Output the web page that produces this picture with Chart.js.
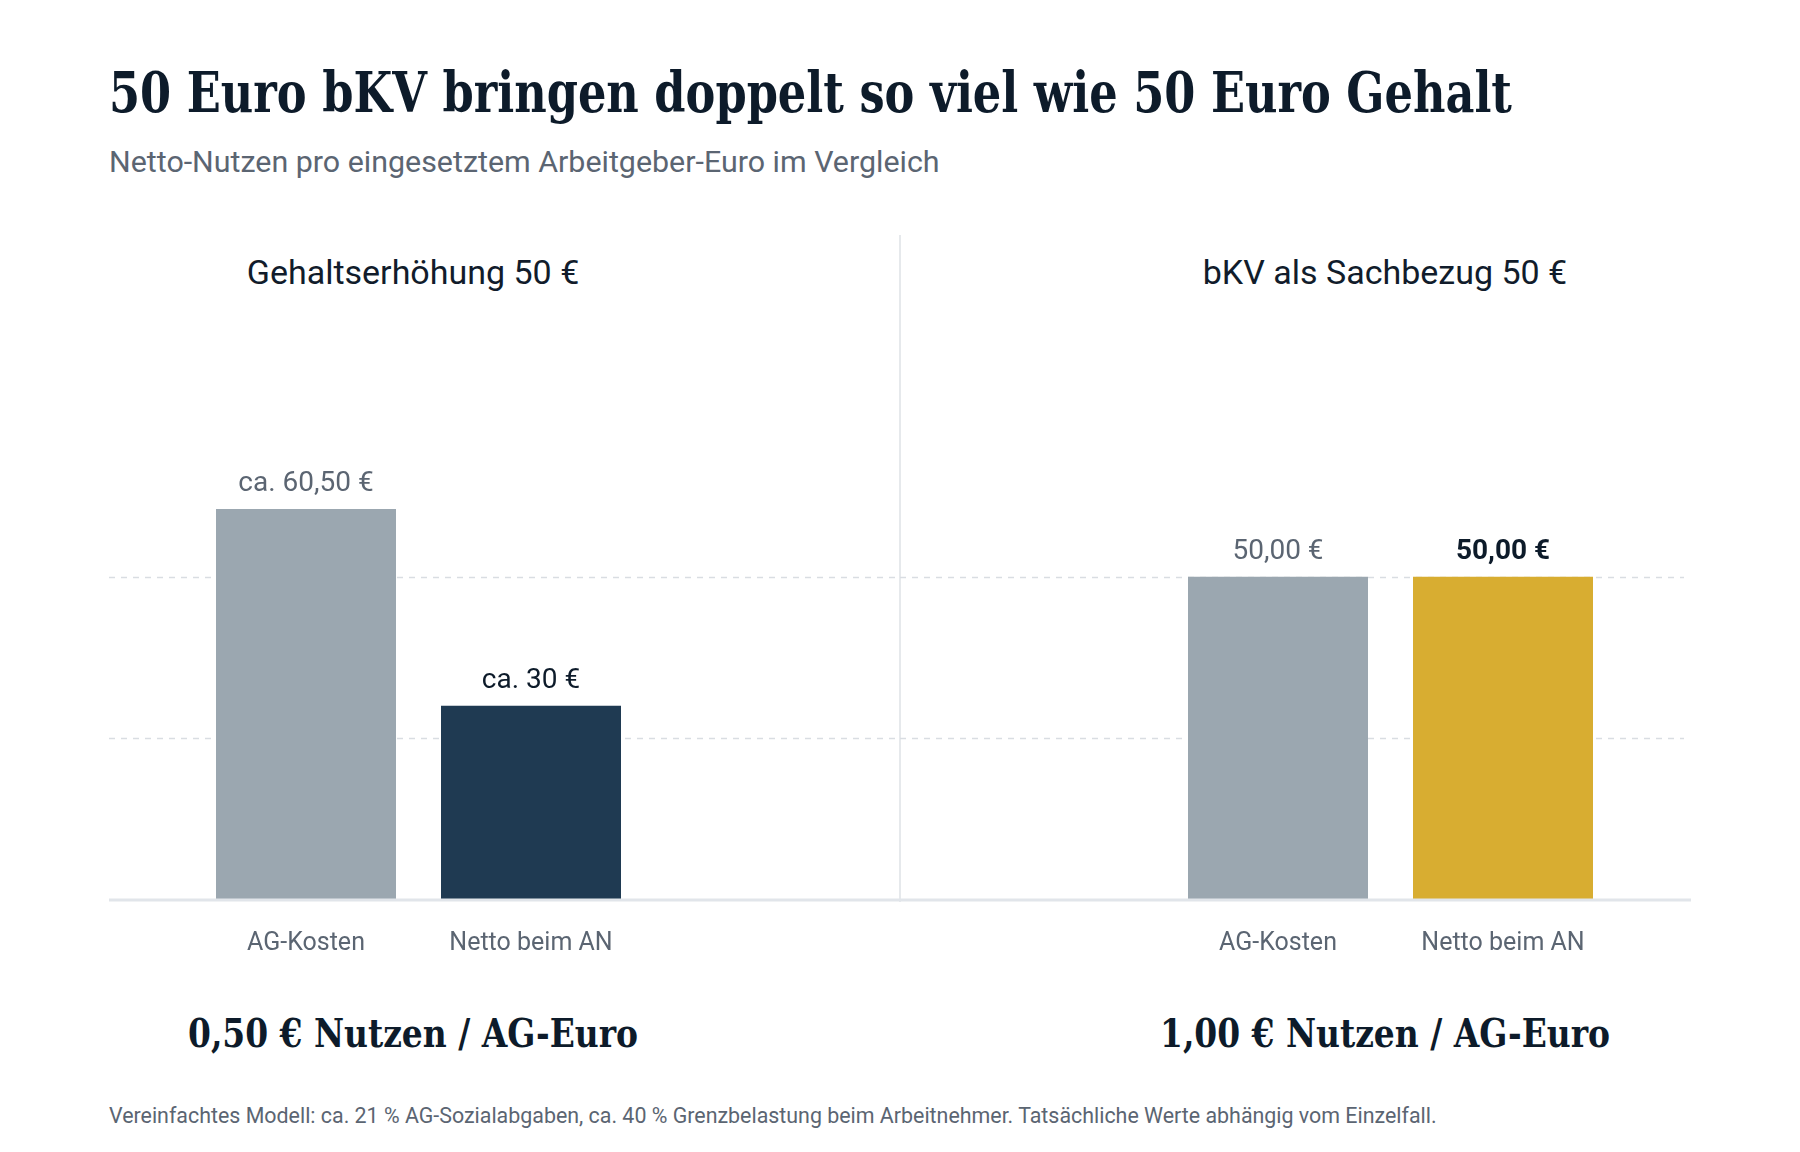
<!DOCTYPE html>
<html lang="de">
<head>
<meta charset="utf-8">
<title>50 Euro bKV bringen doppelt so viel wie 50 Euro Gehalt</title>
<script src="https://cdn.jsdelivr.net/npm/chart.js@4.4.1/dist/chart.umd.min.js"></script>
<style>
  html, body { margin: 0; padding: 0; background: #ffffff; }
  #page { position: relative; width: 1800px; height: 1152px; overflow: hidden; }
  .abs { position: absolute; white-space: nowrap; line-height: 1; }
  .slab { font-family: "Roboto Slab", "DejaVu Serif Condensed", "DejaVu Serif", serif; font-weight: 700; color: #0d1b2a; }
  .sans { font-family: Roboto, "Noto Sans", sans-serif; }
  #title { left: 109px; top: 64px; font-size: 56px; transform-origin: left center; }
  #subtitle { left: 109px; top: 147px; font-size: 30.4px; color: #5b6572; }
  .panel-title { top: 255px; font-size: 34px; color: #111c2b; transform: translateX(-50%); }
  .summary { top: 1013px; font-size: 40px; transform-origin: center center; }
  #footnote { left: 109px; top: 1105px; font-size: 21.4px; color: #5b6572; }
  #divider { left: 899px; top: 235px; width: 2px; height: 667px; background: #e6e9ec; }
  canvas { position: absolute; }
</style>
</head>
<body>
<div id="page">
  <div id="title" class="abs slab">50 Euro bKV bringen doppelt so viel wie 50 Euro Gehalt</div>
  <div id="subtitle" class="abs sans">Netto-Nutzen pro eingesetztem Arbeitgeber-Euro im Vergleich</div>
  <div id="divider" class="abs"></div>
  <div id="title-left" class="abs sans panel-title" style="left:413px"></div>
  <div id="title-right" class="abs sans panel-title" style="left:1385px"></div>
  <canvas id="chart-left" width="791" height="600" style="left:109px; top:400px"></canvas>
  <canvas id="chart-right" width="791" height="600" style="left:900px; top:400px"></canvas>
  <div id="sum-left" class="abs slab summary" style="left:413px"></div>
  <div id="sum-right" class="abs slab summary" style="left:1385px"></div>
  <div id="footnote" class="abs sans">Vereinfachtes Modell: ca. 21 % AG-Sozialabgaben, ca. 40 % Grenzbelastung beim Arbeitnehmer. Tatsächliche Werte abhängig vom Einzelfall.</div>
</div>
<script>
// Categories shared by both panels
const categories = ["AG-Kosten", "Netto beim AN"];

// Left panel: salary increase
const salaryValues = [60.5, 30];
const salaryLabels = ["ca. 60,50 €", "ca. 30 €"];
const salaryColors = ["#9ba7b0", "#1f3a52"];
const salaryLabelColors = ["#5b6572", "#0d1b2a"];
const salaryLabelWeights = ["400", "400"];

// Right panel: bKV as benefit in kind
const bkvValues = [50, 50];
const bkvLabels = ["50,00 €", "50,00 €"];
const bkvColors = ["#9ba7b0", "#d8ad31"];
const bkvLabelColors = ["#5b6572", "#0d1b2a"];
const bkvLabelWeights = ["400", "700"];

// Panel headings and results
const panelTitles = ["Gehaltserhöhung 50 €", "bKV als Sachbezug 50 €"];
const summaries = ["0,50 € Nutzen / AG-Euro", "1,00 € Nutzen / AG-Euro"];

// Dashed guide lines (y values)
const gridValues = [25, 50];
const yMax = 72;

document.getElementById("title-left").textContent = panelTitles[0];
document.getElementById("title-right").textContent = panelTitles[1];
document.getElementById("sum-left").textContent = summaries[0];
document.getElementById("sum-right").textContent = summaries[1];

// Squeeze the slab headings to the width they have in the layout
const fitWidth = (id, target, centered) => {
  const el = document.getElementById(id);
  const w = el.getBoundingClientRect().width;
  const s = target / w;
  el.style.transform = centered ? `translateX(-50%) scaleX(${s})` : `scaleX(${s})`;
};
fitWidth("title", 1403, false);
fitWidth("sum-left", 450, true);
fitWidth("sum-right", 450, true);

// Plugin: dashed guides and baseline over the full canvas width
const guidePlugin = {
  id: "guides",
  beforeDatasetsDraw(chart, args, opts) {
    const ctx = chart.ctx;
    const y = chart.scales.y;
    ctx.save();
    ctx.strokeStyle = "#d9dde2";
    ctx.lineWidth = 1.5;
    ctx.setLineDash([6, 6]);
    for (const v of gridValues) {
      const py = Math.round(y.getPixelForValue(v)) + 0.5;
      ctx.beginPath();
      ctx.moveTo(0, py);
      ctx.lineTo(chart.width - (opts.endGap || 0), py);
      ctx.stroke();
    }
    ctx.restore();
  },
  afterDatasetsDraw(chart) {
    const ctx = chart.ctx;
    const py = chart.scales.y.getPixelForValue(0);
    ctx.save();
    ctx.strokeStyle = "#e1e5ea";
    ctx.lineWidth = 3;
    ctx.beginPath();
    ctx.moveTo(0, py + 1);
    ctx.lineTo(chart.width, py + 1);
    ctx.stroke();
    ctx.restore();
  },
};

// Plugin: value text above each bar
const valueLabelPlugin = {
  id: "valueLabels",
  afterDatasetsDraw(chart, args, opts) {
    const ctx = chart.ctx;
    const meta = chart.getDatasetMeta(0);
    ctx.save();
    ctx.textAlign = "center";
    ctx.textBaseline = "alphabetic";
    meta.data.forEach((bar, i) => {
      ctx.font = `${opts.weights[i]} 28px Roboto`;
      ctx.fillStyle = opts.colors[i];
      ctx.fillText(opts.texts[i], bar.x, bar.y - 18);
    });
    ctx.restore();
  },
};

const makeChart = (id, values, colors, texts, labelColors, weights, padding, endGap) => {
  return new Chart(document.getElementById(id), {
    type: "bar",
    plugins: [guidePlugin, valueLabelPlugin],
    data: {
      labels: categories,
      datasets: [
        {
          data: values,
          backgroundColor: colors,
          borderWidth: 0,
          barPercentage: 0.8,
          categoryPercentage: 1,
        },
      ],
    },
    options: {
      responsive: false,
      animation: false,
      layout: { padding: padding },
      plugins: {
        legend: { display: false },
        tooltip: { enabled: false },
        guides: { endGap: endGap },
        valueLabels: { texts: texts, colors: labelColors, weights: weights },
      },
      scales: {
        x: {
          grid: { display: false, drawTicks: false },
          border: { display: false },
          ticks: {
            padding: 30,
            color: "#5b6572",
            font: { family: "Roboto", size: 25 },
          },
        },
        y: {
          display: false,
          min: 0,
          max: yMax,
        },
      },
    },
  });
};

makeChart("chart-left", salaryValues, salaryColors, salaryLabels, salaryLabelColors, salaryLabelWeights,
  { left: 84.5, right: 256.5, top: 35, bottom: 11 }, 0);
makeChart("chart-right", bkvValues, bkvColors, bkvLabels, bkvLabelColors, bkvLabelWeights,
  { left: 265.5, right: 75.5, top: 35, bottom: 11 }, 7);
</script>
</body>
</html>
